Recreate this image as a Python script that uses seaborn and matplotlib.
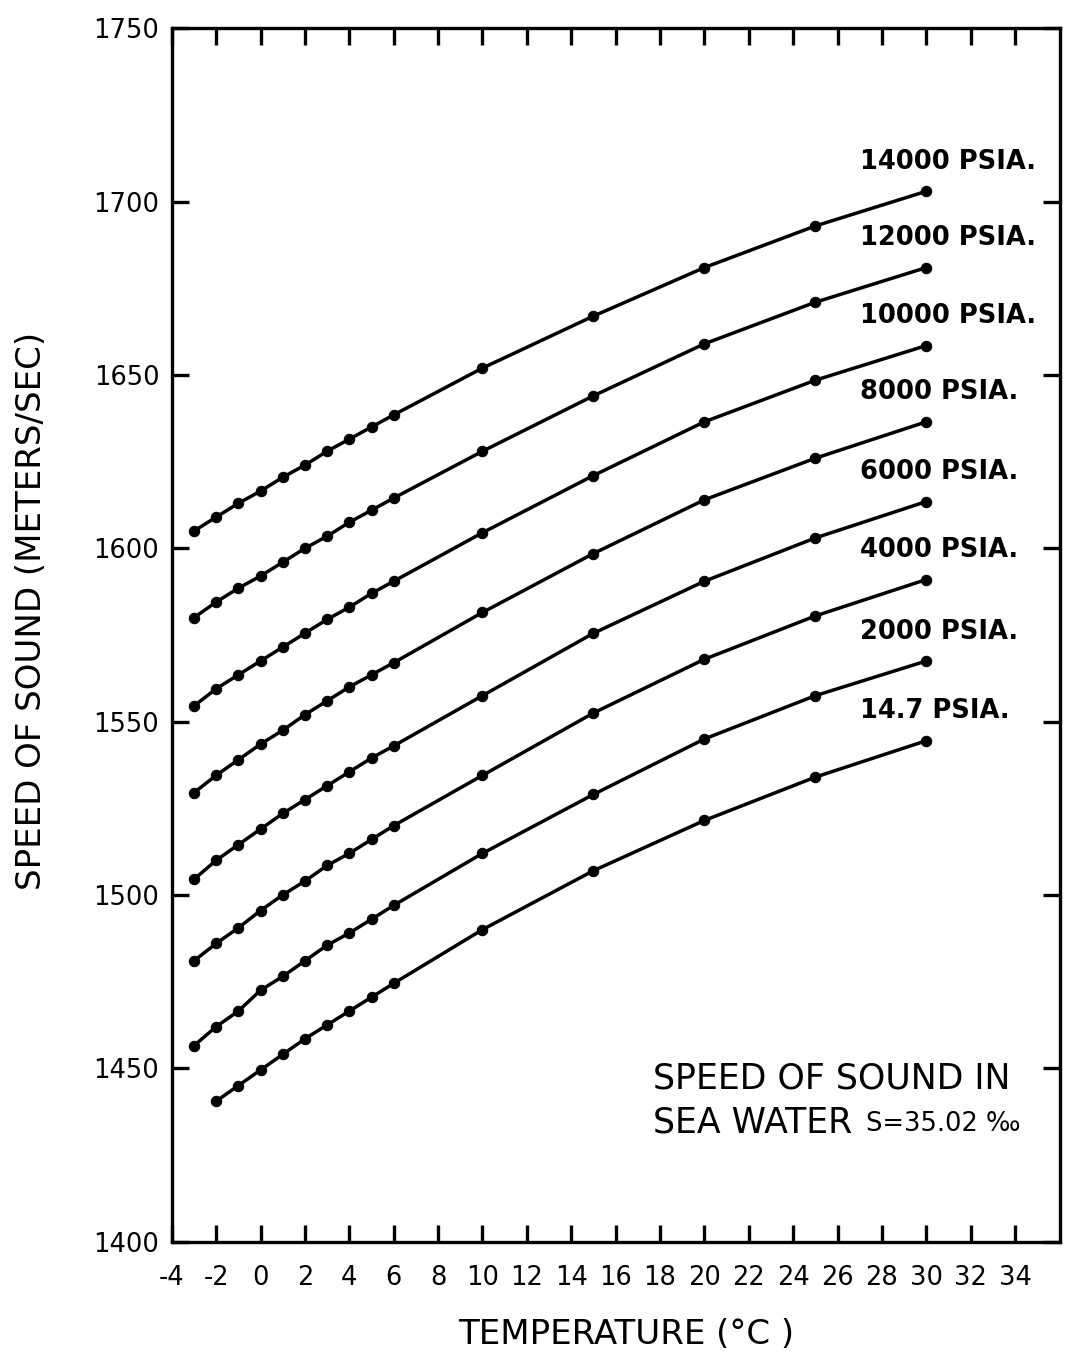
import matplotlib
matplotlib.use("Agg")
import matplotlib.pyplot as plt
import numpy as np
import pandas as pd
import seaborn as sns

# ---- data ----
temps = [-3, -2, -1, 0, 1, 2, 3, 4, 5, 6, 10, 15, 20, 25, 30]
temps_surface = [-2, -1, 0, 1, 2, 3, 4, 5, 6, 10, 15, 20, 25, 30]

speed_14_7 = [1440.5, 1445.0, 1449.5, 1454.0, 1458.5, 1462.5, 1466.5, 1470.5, 1474.5,
              1490.0, 1507.0, 1521.5, 1534.0, 1544.5]
speed_2000 = [1456.5, 1462.0, 1466.5, 1472.5, 1476.5, 1481.0, 1485.5, 1489.0, 1493.0, 1497.0,
              1512.0, 1529.0, 1545.0, 1557.5, 1567.5]
speed_4000 = [1481.0, 1486.0, 1490.5, 1495.5, 1500.0, 1504.0, 1508.5, 1512.0, 1516.0, 1520.0,
              1534.5, 1552.5, 1568.0, 1580.5, 1591.0]
speed_6000 = [1504.5, 1510.0, 1514.5, 1519.0, 1523.5, 1527.5, 1531.5, 1535.5, 1539.5, 1543.0,
              1557.5, 1575.5, 1590.5, 1603.0, 1613.5]
speed_8000 = [1529.5, 1534.5, 1539.0, 1543.5, 1547.5, 1552.0, 1556.0, 1560.0, 1563.5, 1567.0,
              1581.5, 1598.5, 1614.0, 1626.0, 1636.5]
speed_10000 = [1554.5, 1559.5, 1563.5, 1567.5, 1571.5, 1575.5, 1579.5, 1583.0, 1587.0, 1590.5,
               1604.5, 1621.0, 1636.5, 1648.5, 1658.5]
speed_12000 = [1580.0, 1584.5, 1588.5, 1592.0, 1596.0, 1600.0, 1603.5, 1607.5, 1611.0, 1614.5,
               1628.0, 1644.0, 1659.0, 1671.0, 1681.0]
speed_14000 = [1605.0, 1609.0, 1613.0, 1616.5, 1620.5, 1624.0, 1628.0, 1631.5, 1635.0, 1638.5,
               1652.0, 1667.0, 1681.0, 1693.0, 1703.0]

pressure_labels = ["14.7 PSIA.", "2000 PSIA.", "4000 PSIA.", "6000 PSIA.",
                   "8000 PSIA.", "10000 PSIA.", "12000 PSIA.", "14000 PSIA."]
series = [speed_14_7, speed_2000, speed_4000, speed_6000,
          speed_8000, speed_10000, speed_12000, speed_14000]
x_ticks = list(range(-4, 35, 2))
y_ticks = list(range(1400, 1751, 50))

# ---- build long table ----
rows = []
for lab, vals in zip(pressure_labels, series):
    tt = temps_surface if len(vals) == len(temps_surface) else temps
    for t, v in zip(tt, vals):
        rows.append({"T": t, "c": v, "p": lab})
df = pd.DataFrame(rows)

sns.set_style("ticks")
plt.rcParams['font.family'] = ['DejaVu Sans']
plt.rcParams['text.color'] = 'black'
plt.rcParams['xtick.color'] = 'black'
plt.rcParams['ytick.color'] = 'black'
plt.rcParams['axes.labelcolor'] = 'black'

fig = plt.figure(figsize=(10.67, 13.51), dpi=100)
ax = fig.add_axes([0.161, 0.081, 0.832, 0.898])

sns.lineplot(data=df, x="T", y="c", hue="p", hue_order=pressure_labels,
             palette={l: "black" for l in pressure_labels}, estimator=None,
             marker="o", markersize=7.5, markeredgecolor="black",
             linewidth=2.5, legend=False, ax=ax)

ax.set_xlim(-4, 36)
ax.set_ylim(1400, 1750)
ax.set_xticks(x_ticks)
ax.set_xticklabels([str(t) for t in x_ticks])
ax.set_yticks(y_ticks)
ax.tick_params(axis="both", direction="in", length=12, width=2.4,
               top=True, right=True, labelsize=18.5, color="black",
               labelcolor="black")
ax.tick_params(axis="y", pad=9)
ax.tick_params(axis="x", pad=17)
for s in ax.spines.values():
    s.set_linewidth(2.4)
    s.set_color("black")

ax.set_xlabel("TEMPERATURE (°C )", fontsize=24.5)
ax.set_ylabel("SPEED OF SOUND (METERS/SEC)", fontsize=24.5)
ax.xaxis.set_label_coords(0.512, -0.063)
ax.yaxis.set_label_coords(-0.140, 0.52)

# curve labels near the right end of each curve
for lab, vals in zip(pressure_labels, series):
    ax.text(27.0, vals[-1] + 8.5, lab, fontsize=18.5, fontweight="bold",
            ha="left", va="center")

ax.text(17.7, 1447, "SPEED OF SOUND IN", fontsize=25, ha="left", va="center")
ax.text(17.7, 1434.3, "SEA WATER", fontsize=25, ha="left", va="center")
ax.text(27.3, 1433.8, "S=35.02 ‰", fontsize=18.5, ha="left", va="center")

fig.savefig("out.png", dpi=100)
